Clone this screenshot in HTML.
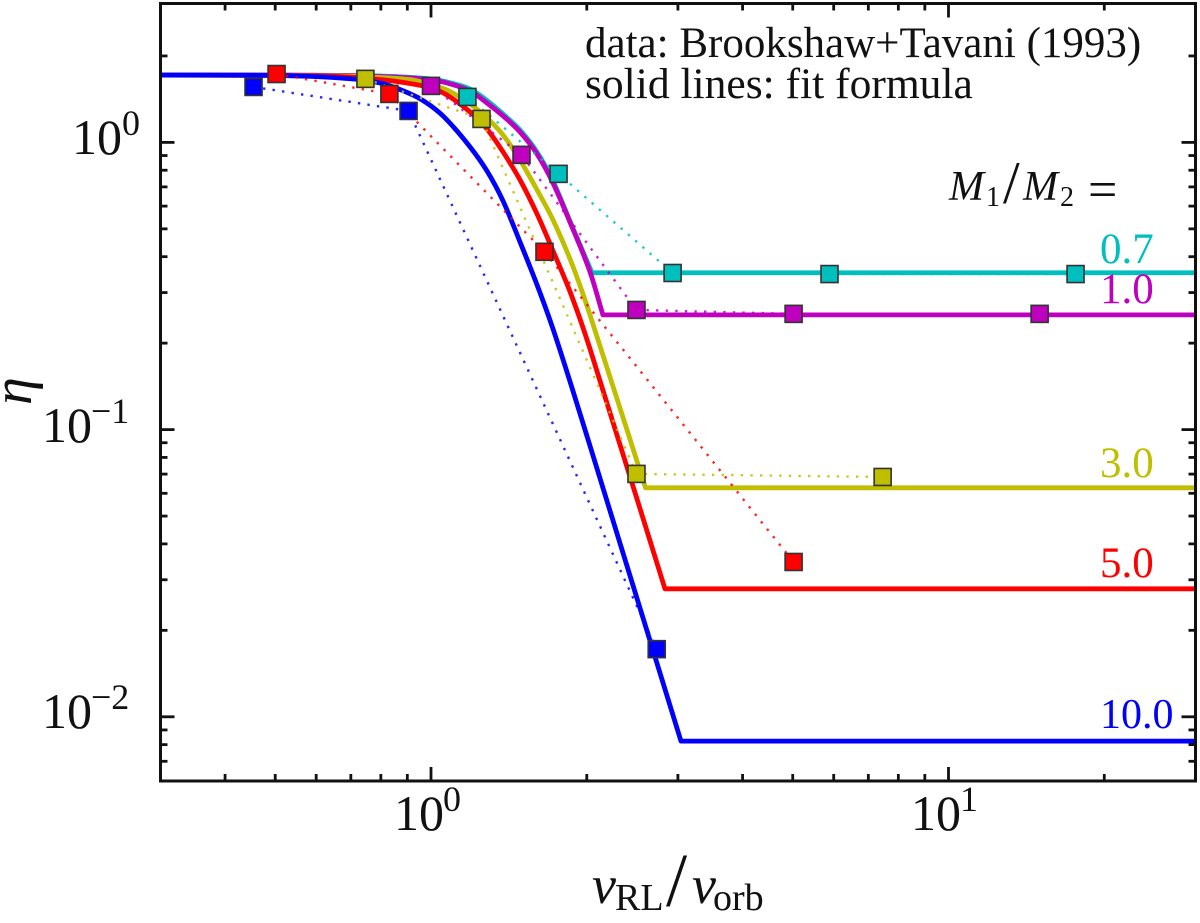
<!DOCTYPE html>
<html lang="en">
<head>
<meta charset="utf-8">
<title>Accretion efficiency fit chart</title>
<style>
html,body{margin:0;padding:0;background:#fff;width:1200px;height:923px;overflow:hidden}
svg{display:block}
text{font-family:"Liberation Serif","DejaVu Serif",serif;fill:#111}
.it{font-style:italic}
</style>
</head>
<body>
<svg id="chart" xmlns="http://www.w3.org/2000/svg" width="1200" height="923" viewBox="0 0 1200 923">
  <g id="plot-lines"></g>
  <g id="plot-dots"></g>
  <g id="plot-marks"></g>
  <g id="plot-ticks"></g>
  <rect x="160.5" y="3.5" width="1035" height="777.5" fill="none" stroke="#111" stroke-width="3"/>

  <g>
    <text x="72" y="154" font-size="50">10</text>
    <text x="122" y="135" font-size="36">0</text>
    <text x="42" y="442" font-size="50">10</text>
    <text x="91" y="423" font-size="36">−1</text>
    <text x="42" y="728" font-size="50">10</text>
    <text x="91" y="709" font-size="36">−2</text>
  </g>
  <g>
    <text x="394" y="830" font-size="50">10</text>
    <text x="443" y="811" font-size="36">0</text>
    <text x="911" y="830" font-size="50">10</text>
    <text x="960" y="811" font-size="36">1</text>
  </g>

  <text class="it" transform="translate(31,405) rotate(-90)" font-size="56">η</text>

  <g>
    <text class="it" x="592" y="903" font-size="54">v</text>
    <text x="615" y="910" font-size="38">RL</text>
    <text x="666" y="906" font-size="76">/</text>
    <text class="it" x="692" y="903" font-size="54">v</text>
    <text x="713" y="910" font-size="38">orb</text>
  </g>

  <text x="585" y="57" font-size="43">data: Brookshaw+Tavani (1993)</text>
  <text x="585" y="98" font-size="43.5">solid lines: fit formula</text>

  <g>
    <text class="it" x="949" y="200" font-size="42">M</text>
    <text x="986" y="206" font-size="28">1</text>
    <text x="1003" y="203" font-size="60">/</text>
    <text class="it" x="1023" y="200" font-size="42">M</text>
    <text x="1060" y="206" font-size="28">2</text>
    <text x="1088" y="207" font-size="52">=</text>
  </g>

  <text x="1100" y="263" font-size="43" style="fill:#00bfbf">0.7</text>
  <text x="1100" y="303" font-size="43" style="fill:#bf00bf">1.0</text>
  <text x="1100" y="477" font-size="43" style="fill:#bfbf00">3.0</text>
  <text x="1100" y="577" font-size="43" style="fill:#ff0000">5.0</text>
  <text x="1100" y="728" font-size="42" style="fill:#0000ff">10.0</text>
</svg>

<script>
// Axis tick values
const xMajorTicks = [1, 10];
const xMinorTicks = [0.4, 0.5, 0.6, 0.7, 0.8, 0.9, 2, 3, 4, 5, 6, 7, 8, 9, 20];
const yMajorTicks = [1, 0.1, 0.01];
const yMinorTicks = [2, 0.9, 0.8, 0.7, 0.6, 0.5, 0.4, 0.3, 0.2, 0.09, 0.08, 0.07, 0.06, 0.05, 0.04, 0.03, 0.02, 0.009, 0.008, 0.007];

// Fit curves; the last two points are the break and the flat end
const fitX07 = [0.3, 0.502, 0.667, 0.797, 0.923, 1.0, 1.074, 1.19, 1.283, 1.378, 1.486, 1.603, 1.721, 1.873, 2.047, 30];
const fitY07 = [1.716, 1.716, 1.71, 1.703, 1.683, 1.663, 1.623, 1.534, 1.399, 1.256, 1.105, 0.926, 0.734, 0.512, 0.3516, 0.3516];
const fitX10 = [0.3, 0.502, 0.667, 0.797, 0.923, 1.0, 1.074, 1.19, 1.283, 1.378, 1.486, 1.603, 1.721, 1.873, 2.029, 2.149, 30];
const fitY10 = [1.716, 1.716, 1.71, 1.696, 1.676, 1.649, 1.61, 1.51, 1.371, 1.236, 1.087, 0.911, 0.722, 0.507, 0.354, 0.2508, 0.2508];
const fitX30 = [0.3, 0.502, 0.667, 0.797, 0.923, 1.0, 1.074, 1.19, 1.283, 1.378, 1.486, 1.603, 1.721, 1.873, 2.029, 2.597, 30];
const fitY30 = [1.716, 1.71, 1.703, 1.683, 1.649, 1.585, 1.522, 1.361, 1.216, 1.061, 0.868, 0.683, 0.537, 0.377, 0.2506, 0.0627, 0.0627];
const fitX50 = [0.3, 0.502, 0.667, 0.797, 0.923, 1.0, 1.074, 1.19, 1.283, 1.378, 1.486, 1.603, 1.721, 1.873, 2.029, 2.832, 30];
const fitY50 = [1.716, 1.71, 1.696, 1.656, 1.597, 1.547, 1.462, 1.276, 1.113, 0.926, 0.74, 0.563, 0.419, 0.2896, 0.1908, 0.0279, 0.0279];
const fitX100 = [0.3, 0.502, 0.667, 0.797, 0.923, 1.0, 1.074, 1.19, 1.283, 1.378, 1.486, 1.603, 1.721, 1.873, 2.029, 3.041, 30];
const fitY100 = [1.716, 1.71, 1.676, 1.61, 1.462, 1.339, 1.197, 0.964, 0.795, 0.625, 0.45, 0.319, 0.224, 0.1396, 0.0877, 0.00823, 0.00823];

// Brookshaw + Tavani data points
const dataX07 = [1.176, 1.764, 2.93, 5.89, 17.6];
const dataY07 = [1.44, 0.777, 0.351, 0.348, 0.348];
const dataX10 = [1.0, 1.496, 2.495, 5.02, 15.0];
const dataY10 = [1.573, 0.905, 0.261, 0.2529, 0.2529];
const dataX30 = [0.747, 1.252, 2.495, 7.46];
const dataY30 = [1.664, 1.207, 0.0701, 0.0684];
const dataX50 = [0.503, 0.831, 1.657, 5.02];
const dataY50 = [1.73, 1.475, 0.416, 0.0346];
const dataX100 = [0.454, 0.905, 2.73];
const dataY100 = [1.56, 1.287, 0.0172];

const colour07 = '#00bfbf';
const colour10 = '#bf00bf';
const colour30 = '#bfbf00';
const colour50 = '#ff0000';
const colour100 = '#0000ff';

const NS = 'http://www.w3.org/2000/svg';
const FRAME = { left: 160.5, right: 1195.5, top: 3.5, bottom: 781 };
function xScale(v) { return 431 + 517.5 * Math.log10(v); }
function yScale(v) { return 142.4 - 287.2 * Math.log10(v); }

function fitPath(xs, ys) {
  const p = xs.map((x, i) => [xScale(x), yScale(ys[i])]);
  const last = p.length - 2;
  let d = 'M' + p[0][0].toFixed(2) + ' ' + p[0][1].toFixed(2);
  for (let i = 0; i < last; i++) {
    const p0 = p[Math.max(i - 1, 0)], p1 = p[i], p2 = p[i + 1], p3 = p[Math.min(i + 2, last)];
    const h = p2[0] - p1[0];
    const m1 = (p2[1] - p0[1]) / (p2[0] - p0[0]);
    const m2 = (p3[1] - p1[1]) / (p3[0] - p1[0]);
    const c1x = p1[0] + h / 3, c1y = p1[1] + m1 * h / 3;
    const c2x = p2[0] - h / 3, c2y = p2[1] - m2 * h / 3;
    d += 'C' + c1x.toFixed(2) + ' ' + c1y.toFixed(2) + ' ' + c2x.toFixed(2) + ' ' + c2y.toFixed(2) + ' ' + p2[0].toFixed(2) + ' ' + p2[1].toFixed(2);
  }
  d += 'L' + Math.min(p[last + 1][0], FRAME.right).toFixed(2) + ' ' + p[last + 1][1].toFixed(2);
  return d;
}

function drawFit(name, xs, ys, colour) {
  const el = document.createElementNS(NS, 'path');
  
  
  el.setAttribute('d', fitPath(xs, ys));
  el.setAttribute('fill', 'none');
  el.setAttribute('stroke', colour);
  el.setAttribute('stroke-width', '4.8');
  el.setAttribute('stroke-linejoin', 'round');
  document.getElementById('plot-lines').appendChild(el);
}

function drawConnector(name, xs, ys, colour) {
  const el = document.createElementNS(NS, 'polyline');
  
  
  el.setAttribute('points', xs.map((x, i) => xScale(x).toFixed(2) + ',' + yScale(ys[i]).toFixed(2)).join(' '));
  el.setAttribute('fill', 'none');
  el.setAttribute('stroke', colour);
  el.setAttribute('stroke-width', '2.4');
  el.setAttribute('stroke-dasharray', '2.4 7.2');
  el.setAttribute('opacity', '0.85');
  document.getElementById('plot-dots').appendChild(el);
}

function drawMarkers(name, xs, ys, colour) {
  xs.forEach((x, i) => {
    const el = document.createElementNS(NS, 'rect');
    
    
    el.setAttribute('x', (xScale(x) - 8.5).toFixed(2));
    el.setAttribute('y', (yScale(ys[i]) - 8.5).toFixed(2));
    el.setAttribute('width', '17');
    el.setAttribute('height', '17');
    el.setAttribute('fill', colour);
    el.setAttribute('stroke', '#333');
    el.setAttribute('stroke-width', '1.6');
    document.getElementById('plot-marks').appendChild(el);
  });
}

function drawTick(name, x1, y1, x2, y2) {
  const el = document.createElementNS(NS, 'line');
  
  
  el.setAttribute('x1', x1);
  el.setAttribute('y1', y1);
  el.setAttribute('x2', x2);
  el.setAttribute('y2', y2);
  el.setAttribute('stroke', '#111');
  el.setAttribute('stroke-width', '2.8');
  document.getElementById('plot-ticks').appendChild(el);
}

function drawXTicks(values, len, name) {
  values.forEach(v => {
    const x = xScale(v).toFixed(2);
    drawTick(name, x, FRAME.bottom, x, FRAME.bottom - len);
    drawTick(name, x, FRAME.top, x, FRAME.top + len);
  });
}
function drawYTicks(values, len, name) {
  values.forEach(v => {
    const y = yScale(v).toFixed(2);
    drawTick(name, FRAME.left, y, FRAME.left + len, y);
    drawTick(name, FRAME.right, y, FRAME.right - len, y);
  });
}

drawXTicks(xMajorTicks, 14, 'x-major-tick');
drawXTicks(xMinorTicks, 7, 'x-minor-tick');
drawYTicks(yMajorTicks, 14, 'y-major-tick');
drawYTicks(yMinorTicks, 7, 'y-minor-tick');

drawFit('fit-line-ratio-0-7', fitX07, fitY07, colour07);
drawFit('fit-line-ratio-1-0', fitX10, fitY10, colour10);
drawFit('fit-line-ratio-3-0', fitX30, fitY30, colour30);
drawFit('fit-line-ratio-5-0', fitX50, fitY50, colour50);
drawFit('fit-line-ratio-10-0', fitX100, fitY100, colour100);

drawConnector('data-connector-ratio-0-7', dataX07, dataY07, colour07);
drawConnector('data-connector-ratio-1-0', dataX10, dataY10, colour10);
drawConnector('data-connector-ratio-3-0', dataX30, dataY30, colour30);
drawConnector('data-connector-ratio-5-0', dataX50, dataY50, colour50);
drawConnector('data-connector-ratio-10-0', dataX100, dataY100, colour100);

drawMarkers('data-marker-ratio-0-7', dataX07, dataY07, colour07);
drawMarkers('data-marker-ratio-10-0', dataX100, dataY100, colour100);
drawMarkers('data-marker-ratio-5-0', dataX50, dataY50, colour50);
drawMarkers('data-marker-ratio-3-0', dataX30, dataY30, colour30);
drawMarkers('data-marker-ratio-1-0', dataX10, dataY10, colour10);
</script>
</body>
</html>
